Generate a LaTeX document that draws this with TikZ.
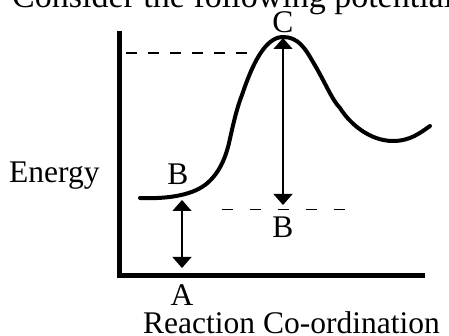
\documentclass[tikz,border=0pt]{standalone}
\usepackage{fontspec}
\setmainfont{Liberation Serif}
\usetikzlibrary{arrows.meta}
\begin{document}
\begin{tikzpicture}[x=1pt,y=-1pt,
  lbl/.style={inner sep=0pt,font=\fontsize{31.5}{31.5}\selectfont},
  axisline/.style={line width=4.5pt},
  curveline/.style={line width=4pt,line cap=round},
  dimarrow/.style={line width=1.4pt,{Triangle[width=19pt,length=11pt]}-{Triangle[width=19pt,length=11pt]}},
  dashline/.style={line width=1.6pt,dash pattern=on 11pt off 11pt}]
\useasboundingbox (0,0) rectangle (449,336);
% top clipped text
\node[lbl,anchor=base west,font=\fontsize{34}{34}\selectfont] (top) at (12,8) {Consider the following potential};
% axes
\coordinate (ytop) at (119.5,31);
\coordinate (orig) at (119.5,275.5);
\coordinate (xend) at (425,275.5);
\draw[axisline] (ytop) -- (orig) -- (xend);
% curve
\draw[curveline] (140,198) .. controls (165,199) and (190,196) .. (205,185)
  .. controls (218,175) and (225,160) .. (229,143)
  .. controls (232,130) and (236,110) .. (242,95)
  .. controls (252,65) and (265,37) .. (283,37)
  .. controls (298,37) and (305,48) .. (313,62)
  .. controls (325,82) and (332,100) .. (340,108)
  .. controls (350,124) and (370,141) .. (393,141)
  .. controls (410,141) and (420,133) .. (430,126);
% dashed lines
\coordinate (dtl) at (126,53);
\coordinate (dtr) at (257,53);
\draw[dashline] (dtl) -- (dtr);
\coordinate (dbl) at (222,209.5);
\coordinate (dbr) at (345,209.5);
\draw[dashline,dash pattern=on 11pt off 17pt] (dbl) -- (dbr);
% arrows
\coordinate (ctop) at (283,38);
\coordinate (cbot) at (283,205);
\draw[dimarrow] (ctop) -- (cbot);
\coordinate (atop) at (182,200);
\coordinate (abot) at (182,268);
\draw[dimarrow] (atop) -- (abot);
% labels
\node[lbl,anchor=base] (C) at (283,33) {C};
\node[lbl,anchor=base] (B1) at (178,185) {B};
\node[lbl,anchor=base] (B2) at (283,238) {B};
\node[lbl,anchor=base] (A) at (182,305) {A};
\node[lbl,anchor=base west] (E) at (9,183) {Energy};
\node[lbl,anchor=base west] (X) at (143,333) {Reaction Co-ordination};
\end{tikzpicture}
\end{document}
